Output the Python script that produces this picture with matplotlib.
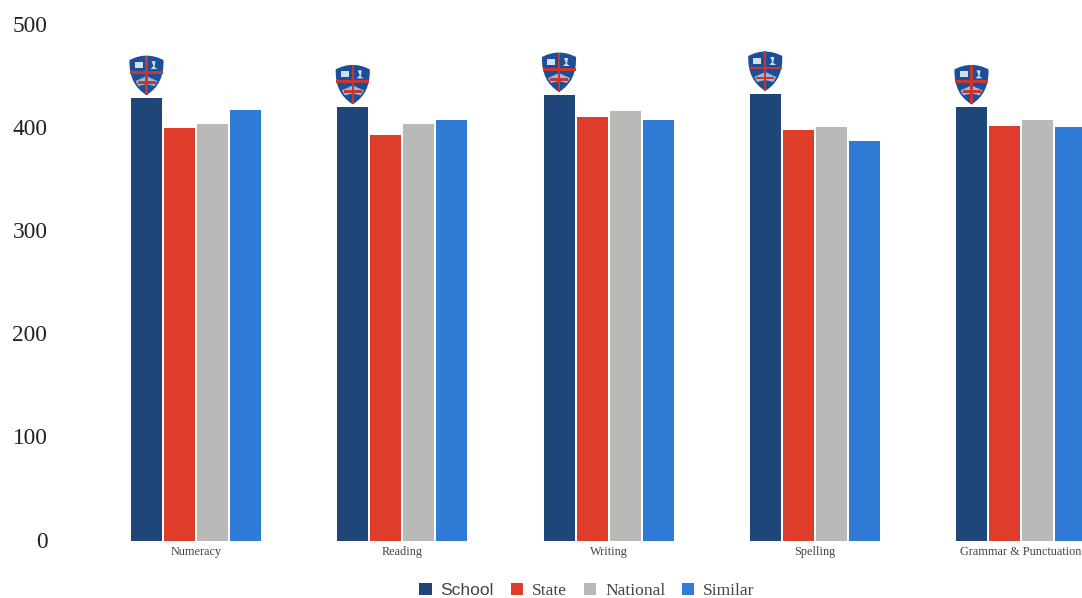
import numpy as np
import matplotlib
matplotlib.use("Agg")
import matplotlib.pyplot as plt
from matplotlib.patches import Polygon, PathPatch
from matplotlib.path import Path
from matplotlib.transforms import ScaledTranslation

categories = ["Numeracy", "Reading", "Writing", "Spelling", "Grammar & Punctuation"]
school = [430, 421, 433, 434, 421]
state = [401, 394, 412, 399, 403]
national = [405, 405, 417, 402, 409]
similar = [418, 409, 409, 388, 402]
yticks = [0, 100, 200, 300, 400, 500]

series = [("School", school, "#1f4679"), ("State", state, "#de3d2c"),
          ("National", national, "#b9b9b7"), ("Similar", similar, "#2f7bd6")]

plt.rcParams["font.family"] = ["Liberation Serif", "DejaVu Serif"]

W, H = 1082, 598
fig = plt.figure(figsize=(W / 100, H / 100), dpi=100)
ax = fig.add_axes([55 / W, (H - 541) / H, (W - 55) / W, 526 / H])

pitch = 206.25
ax.set_xlim((55 - 196) / pitch, (W - 196) / pitch)
ax.set_ylim(0, 526 / 1.03)

x = np.arange(len(categories))
bar_w = 31 / pitch
step = 33 / pitch
for i, (name, vals, col) in enumerate(series):
    ax.bar(x + (i - 1.5) * step, vals, bar_w, color=col, label=name)

for s in ax.spines.values():
    s.set_visible(False)
ax.set_yticks(yticks)
ax.set_xticks(x)
ax.set_xticklabels(categories, fontsize=8.8, color="#444444")
ax.tick_params(axis="both", length=0)
ax.tick_params(axis="x", pad=3.8)
ax.tick_params(axis="y", labelsize=16.8, pad=5.5, labelcolor="#222222")
for lab in ax.get_yticklabels():
    lab.set_transform(lab.get_transform() + ScaledTranslation(0, 1.5 / 100, fig.dpi_scale_trans))


# crest above each school bar, drawn in pixels relative to the bar top
def crest(xc, top):
    tr = fig.dpi_scale_trans + ScaledTranslation(xc, top, ax.transData)
    px = lambda pts: [(a / 100, b / 100) for a, b in pts]
    C = Path.CURVE3
    verts = px([(-17, 38), (0, 47), (17, 38), (18, 14), (0, 3), (-18, 14), (-17, 38)])
    codes = [Path.MOVETO, C, C, C, C, C, C]
    ax.add_patch(PathPatch(Path(verts, codes), fc="#1d4f98", ec="none", transform=tr, zorder=4))
    ax.add_patch(Polygon(px([(-1.2, 42.5), (1.2, 42.5), (1.2, 3), (-1.2, 3)]), fc="#c9352f", ec="none", transform=tr, zorder=6))
    ax.add_patch(Polygon(px([(-16.5, 27), (16.5, 27), (16.5, 24.5), (-16.5, 24.5)]), fc="#c9352f", ec="none", transform=tr, zorder=6))
    ax.add_patch(Polygon(px([(-12, 36), (-4, 36), (-4, 30), (-12, 30)]), fc="#cfe0ee", ec="none", transform=tr, zorder=5))
    ax.add_patch(Polygon(px([(5, 37), (9, 37), (8, 31), (11, 29), (4, 29), (7, 32)]), fc="#cfe0ee", ec="none", transform=tr, zorder=5))
    ax.add_patch(Polygon(px([(-11, 17), (0, 22), (11, 17), (8, 12), (0, 14), (-8, 12)]), fc="#9fb6d6", ec="none", transform=tr, zorder=5))
    ax.add_patch(Polygon(px([(-9, 17), (9, 17), (9, 14.5), (-9, 14.5)]), fc="#c9352f", ec="none", transform=tr, zorder=6))


for xi, v in zip(x, school):
    crest(xi - 1.5 * step, v)

handles, labels = ax.get_legend_handles_labels()
leg = fig.legend(handles, labels, loc="center", bbox_to_anchor=(587 / W, (H - 591) / H), ncol=4,
                 frameon=False, fontsize=12.6, handlelength=0.72, handleheight=0.72,
                 handletextpad=0.5, columnspacing=0.95, labelcolor="#444444")
leg.get_texts()[0].set_fontfamily("Liberation Sans")

fig.savefig("out.png", dpi=100, facecolor="white")
